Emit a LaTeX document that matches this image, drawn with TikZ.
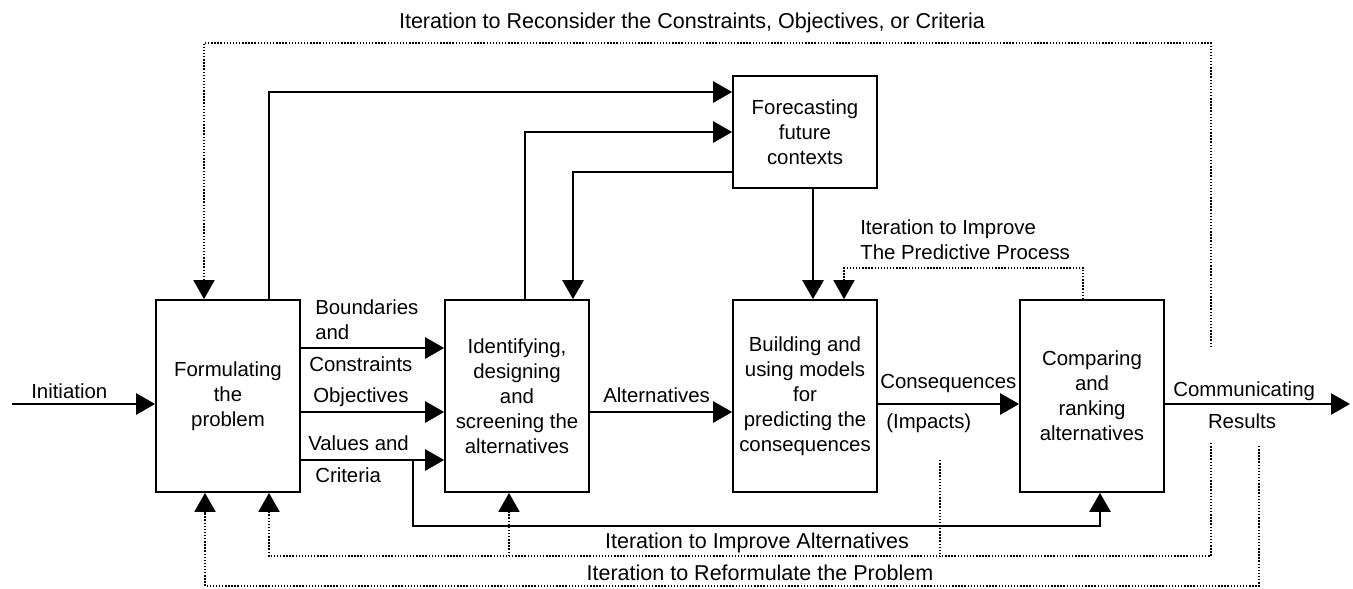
\documentclass[tikz,border=0pt]{standalone}
\usepackage{fontspec}
\setmainfont{Liberation Sans}
\usetikzlibrary{arrows.meta}
\tikzset{
	blk/.style={shape=rectangle, draw, line width=1.2pt, minimum width=3.6cm, minimum height=4.8cm, align=center, inner sep=0pt},
	lbl/.style={inner sep=0pt, anchor=west},
	itlbl/.style={font=\fontsize{15.3}{18.5}\selectfont},
	wire/.style={line width=1.6pt, -{Triangle[length=13.5pt,width=15pt]}},
	dotwire/.style={line width=1pt, dash pattern=on 1pt off 1.2pt, -{Triangle[length=13.5pt,width=15pt]}},
	dotline/.style={line width=1pt, dash pattern=on 1pt off 1.2pt},
}
\begin{document}
\begin{tikzpicture}[x=0.025cm, y=-0.025cm, every node/.style={font=\fontsize{14.5}{17.8}\selectfont}]
		% Paths, nodes and wires:
		\useasboundingbox (0,0) rectangle (1353,588);
		\node[blk](N1) at (228,396){Formulating\\the\\problem};
		\node[blk](N2) at (517,396){Identifying,\\designing\\and\\screening the\\alternatives};
		\node[blk, minimum height=2.8cm](N3) at (805,132){Forecasting\\future\\contexts};
		\node[blk](N4) at (805,396){Building and\\using models\\for\\predicting the\\consequences};
		\node[blk](N5) at (1092,396){Comparing\\and\\ranking\\alternatives};
		\coordinate (C1) at (12,404);
		\coordinate (C2) at (1350,404);
		\coordinate (C3) at (413,460);
		\coordinate (C4) at (1211,347);
		\coordinate (C5) at (1211,443);
		\coordinate (C6) at (1259,446);
		\coordinate (C7) at (940,460);
		\coordinate (C8) at (509,556);
		\draw[wire] (C1) -- (C1 -| N1.west);
		\draw[wire] (N1.east |- 0,348) -- (N2.west |- 0,348);
		\draw[wire] (N1.east |- 0,412) -- (N2.west |- 0,412);
		\draw[wire] (N1.east |- C3) -- (N2.west |- C3);
		\draw[wire] (N2.east |- 0,412) -- (N4.west |- 0,412);
		\draw[wire] (N4.east |- C2) -- (N5.west |- C2);
		\draw[wire] (N5.east |- C2) -- (C2);
		\draw[wire] (N1.north -| 269,0) |- (N3.west |- 0,92);
		\draw[wire] (N2.north -| 525,0) |- (N3.west);
		\draw[wire] (N3.west |- 0,172) -| (N2.north -| 573,0);
		\draw[wire] (N3.south -| 813,0) -- (N4.north -| 813,0);
		\draw[wire] (C3) -- (C3 |- 0,526) -| (N5.south -| 1100,0);
		\draw[dotwire] (N5.north -| 1083,0) -- (1083,268) -| (N4.north -| 844,0);
		\draw[dotwire] (C4) -- (C4 |- 0,43) -| (N1.north -| 204,0);
		\draw[dotwire] (C5) -- (C5 |- 0,556) -| (N1.south -| 269,0);
		\draw[dotwire] (C6) -- (C6 |- 0,586) -| (N1.south -| 205,0);
		\draw[dotline] (C7) -- (C7 |- C8);
		\draw[dotwire] (C8) -- (N2.south -| C8);
		\node[lbl](L1) at (31,391){Initiation};
		\node[lbl](L2) at (315,307){Boundaries};
		\node[lbl](L3) at (315,332){and};
		\node[lbl](L4) at (309,364){Constraints};
		\node[lbl](L5) at (313,397){Objectives};
		\node[lbl](L6) at (308,443){Values and};
		\node[lbl](L7) at (315,475){Criteria};
		\node[lbl](L8) at (603,395){Alternatives};
		\node[lbl](L9) at (880,383){Consequences};
		\node[lbl](L10) at (886,423){(Impacts)};
		\node[lbl](L11) at (1173,391){Communicating};
		\node(L12) at (1242,421){Results};
		\node[lbl, align=left](L13) at (860,240){Iteration to Improve\\The Predictive Process};
		\node[itlbl](L14) at (692,23){Iteration to Reconsider the Constraints, Objectives, or Criteria};
		\node[itlbl](L15) at (757,543){Iteration to Improve Alternatives};
		\node[itlbl](L16) at (760,573){Iteration to Reformulate the Problem};
	\end{tikzpicture}
\end{document}
